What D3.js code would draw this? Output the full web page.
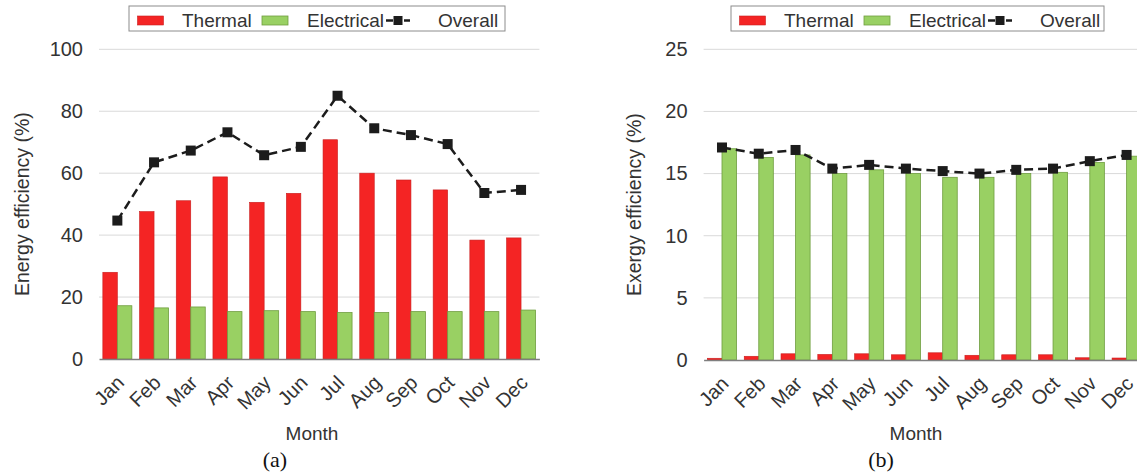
<!DOCTYPE html>
<html>
<head>
<meta charset="utf-8">
<script src="https://cdn.jsdelivr.net/npm/d3@7"></script>
<style>
  html, body { margin: 0; padding: 0; background: #fff; }
  svg { display: block; }
  text { font-family: "Liberation Sans", Arial, sans-serif; fill: #333; }
</style>
</head>
<body>
<svg id="chart" width="1137" height="475"></svg>
<script>
// ---------- data ----------
const months = ["Jan","Feb","Mar","Apr","May","Jun","Jul","Aug","Sep","Oct","Nov","Dec"];
const seriesNames = ["Thermal", "Electrical", "Overall"];

const energyThermal    = [28.0, 47.6, 51.1, 58.8, 50.6, 53.5, 70.8, 60.0, 57.8, 54.6, 38.4, 39.1];
const energyElectrical = [17.2, 16.5, 16.8, 15.3, 15.6, 15.3, 15.0, 15.0, 15.3, 15.3, 15.3, 15.8];
const energyOverall    = [44.7, 63.5, 67.3, 73.2, 65.8, 68.5, 85.0, 74.5, 72.3, 69.4, 53.6, 54.6];
const energyTicks      = [0, 20, 40, 60, 80, 100];

const exergyThermal    = [0.14, 0.30, 0.50, 0.45, 0.50, 0.42, 0.58, 0.38, 0.42, 0.42, 0.18, 0.16];
const exergyElectrical = [17.0, 16.3, 16.5, 15.0, 15.3, 15.0, 14.7, 14.7, 15.0, 15.1, 15.9, 16.4];
const exergyOverall    = [17.1, 16.6, 16.9, 15.4, 15.7, 15.4, 15.2, 15.0, 15.3, 15.4, 16.0, 16.5];
const exergyTicks      = [0, 5, 10, 15, 20, 25];

// ---------- style ----------
const RED = "#f42424", RED_STROKE = "#c81e1e";
const GREEN = "#99d063", GREEN_STROKE = "#6f9d3f";
const LINE = "#1c1c1c";

const svg = d3.select("#chart");
svg.append("rect").attr("width", 1137).attr("height", 475).attr("fill", "#fff");

function drawPanel(cfg) {
  const g = svg.append("g");
  const x = d3.scaleBand().domain(months).range([cfg.x0, cfg.x1]).paddingInner(0).paddingOuter(0);
  const y = d3.scaleLinear().domain([0, cfg.ticks[cfg.ticks.length - 1]]).range([cfg.yBase, cfg.yTop]);
  const sub = d3.scaleBand().domain(["Thermal", "Electrical"]).range([0, x.bandwidth()])
    .paddingInner(0).paddingOuter(0.265);

  // gridlines
  g.append("g").selectAll("line").data(cfg.ticks.filter(t => t !== 0)).join("line")
    .attr("x1", cfg.x0).attr("x2", cfg.x1)
    .attr("y1", d => y(d)).attr("y2", d => y(d))
    .attr("stroke", "#d9d9d9").attr("stroke-width", 1);

  // y axis labels
  const yAxis = d3.axisLeft(y).tickValues(cfg.ticks).tickSize(0).tickPadding(16);
  const ya = g.append("g").attr("transform", `translate(${cfg.x0},0)`).call(yAxis);
  ya.select(".domain").remove();
  ya.selectAll("text").attr("font-size", 20).attr("fill", "#333")
    .attr("font-family", '"Liberation Sans", Arial, sans-serif');

  // bars
  const bars = g.append("g");
  months.forEach((m, i) => {
    bars.append("rect")
      .attr("x", x(m) + sub("Thermal")).attr("width", sub.bandwidth())
      .attr("y", y(cfg.thermal[i])).attr("height", y(0) - y(cfg.thermal[i]))
      .attr("fill", RED).attr("stroke", RED_STROKE).attr("stroke-width", 0.6);
    bars.append("rect")
      .attr("x", x(m) + sub("Electrical")).attr("width", sub.bandwidth())
      .attr("y", y(cfg.electrical[i])).attr("height", y(0) - y(cfg.electrical[i]))
      .attr("fill", GREEN).attr("stroke", GREEN_STROKE).attr("stroke-width", 0.8);
  });

  // baseline axis
  const xAxis = d3.axisBottom(x).tickSize(0).tickFormat("");
  const xa = g.append("g").attr("transform", `translate(0,${y(0)})`).call(xAxis);
  xa.select(".domain").attr("stroke", "#7f7f7f").attr("stroke-width", 1.6);

  // x tick labels rotated
  g.append("g").selectAll("text").data(months).join("text")
    .attr("transform", d => `translate(${x(d) + x.bandwidth() / 2 + 8},${cfg.yBase + 25}) rotate(-45)`)
    .attr("text-anchor", "end").attr("font-size", 20).text(d => d);

  // overall line
  const line = d3.line().x((d, i) => x(months[i]) + x.bandwidth() / 2).y(d => y(d));
  g.append("path").datum(cfg.overall).attr("d", line)
    .attr("fill", "none").attr("stroke", LINE).attr("stroke-width", 2.5)
    .attr("stroke-dasharray", "9,5");
  g.append("g").selectAll("rect").data(cfg.overall).join("rect")
    .attr("x", (d, i) => x(months[i]) + x.bandwidth() / 2 - 5)
    .attr("y", d => y(d) - 5).attr("width", 10).attr("height", 10)
    .attr("fill", LINE);

  // axis titles
  const yMid = (cfg.yBase + cfg.yTop) / 2;
  g.append("text").attr("transform", `translate(${cfg.yTitleX},${yMid}) rotate(-90)`)
    .attr("text-anchor", "middle").attr("font-size", 19.5).attr("dy", "0.35em").text(cfg.yTitle);
  g.append("text").attr("x", cfg.monthX).attr("y", 440)
    .attr("text-anchor", "middle").attr("font-size", 19).text("Month");
  g.append("text").attr("x", cfg.labelX).attr("y", 467)
    .attr("text-anchor", "middle").attr("font-size", 22)
    .style("font-family", '"Liberation Serif", "Times New Roman", serif')
    .style("fill", "#111").text(cfg.label);

  // legend
  const lg = g.append("g").attr("transform", `translate(${cfg.legendX},6)`);
  lg.append("rect").attr("width", cfg.legendW).attr("height", 25)
    .attr("fill", "#fff").attr("stroke", "#8c8c8c").attr("stroke-width", 1);
  lg.append("rect").attr("x", 8.5).attr("y", 10).attr("width", 26).attr("height", 9)
    .attr("fill", RED).attr("stroke", RED_STROKE).attr("stroke-width", 0.6);
  lg.append("text").attr("x", 53).attr("y", 20.5).attr("font-size", 19).text(seriesNames[0]);
  lg.append("rect").attr("x", 133).attr("y", 10).attr("width", 26).attr("height", 9)
    .attr("fill", GREEN).attr("stroke", GREEN_STROKE).attr("stroke-width", 0.8);
  lg.append("text").attr("x", 178).attr("y", 20.5).attr("font-size", 19).text(seriesNames[1]);
  lg.append("line").attr("x1", 257).attr("x2", 281).attr("y1", 14.5).attr("y2", 14.5)
    .attr("stroke", LINE).attr("stroke-width", 2.5).attr("stroke-dasharray", "7,2");
  lg.append("rect").attr("x", 264.5).attr("y", 10).attr("width", 9).attr("height", 9).attr("fill", LINE);
  lg.append("text").attr("x", 309).attr("y", 20.5).attr("font-size", 19).text(seriesNames[2]);
}

drawPanel({
  x0: 99, x1: 539.4, yBase: 359, yTop: 49.3, ticks: energyTicks,
  thermal: energyThermal, electrical: energyElectrical, overall: energyOverall,
  yTitle: "Energy efficiency (%)", yTitleX: 22.5,
  monthX: 312, labelX: 275, label: "(a)",
  legendX: 129, legendW: 376
});

drawPanel({
  x0: 703.6, x1: 1145, yBase: 360, yTop: 49.3, ticks: exergyTicks,
  thermal: exergyThermal, electrical: exergyElectrical, overall: exergyOverall,
  yTitle: "Exergy efficiency (%)", yTitleX: 634,
  monthX: 916, labelX: 881, label: "(b)",
  legendX: 731, legendW: 373
});
</script>
</body>
</html>
